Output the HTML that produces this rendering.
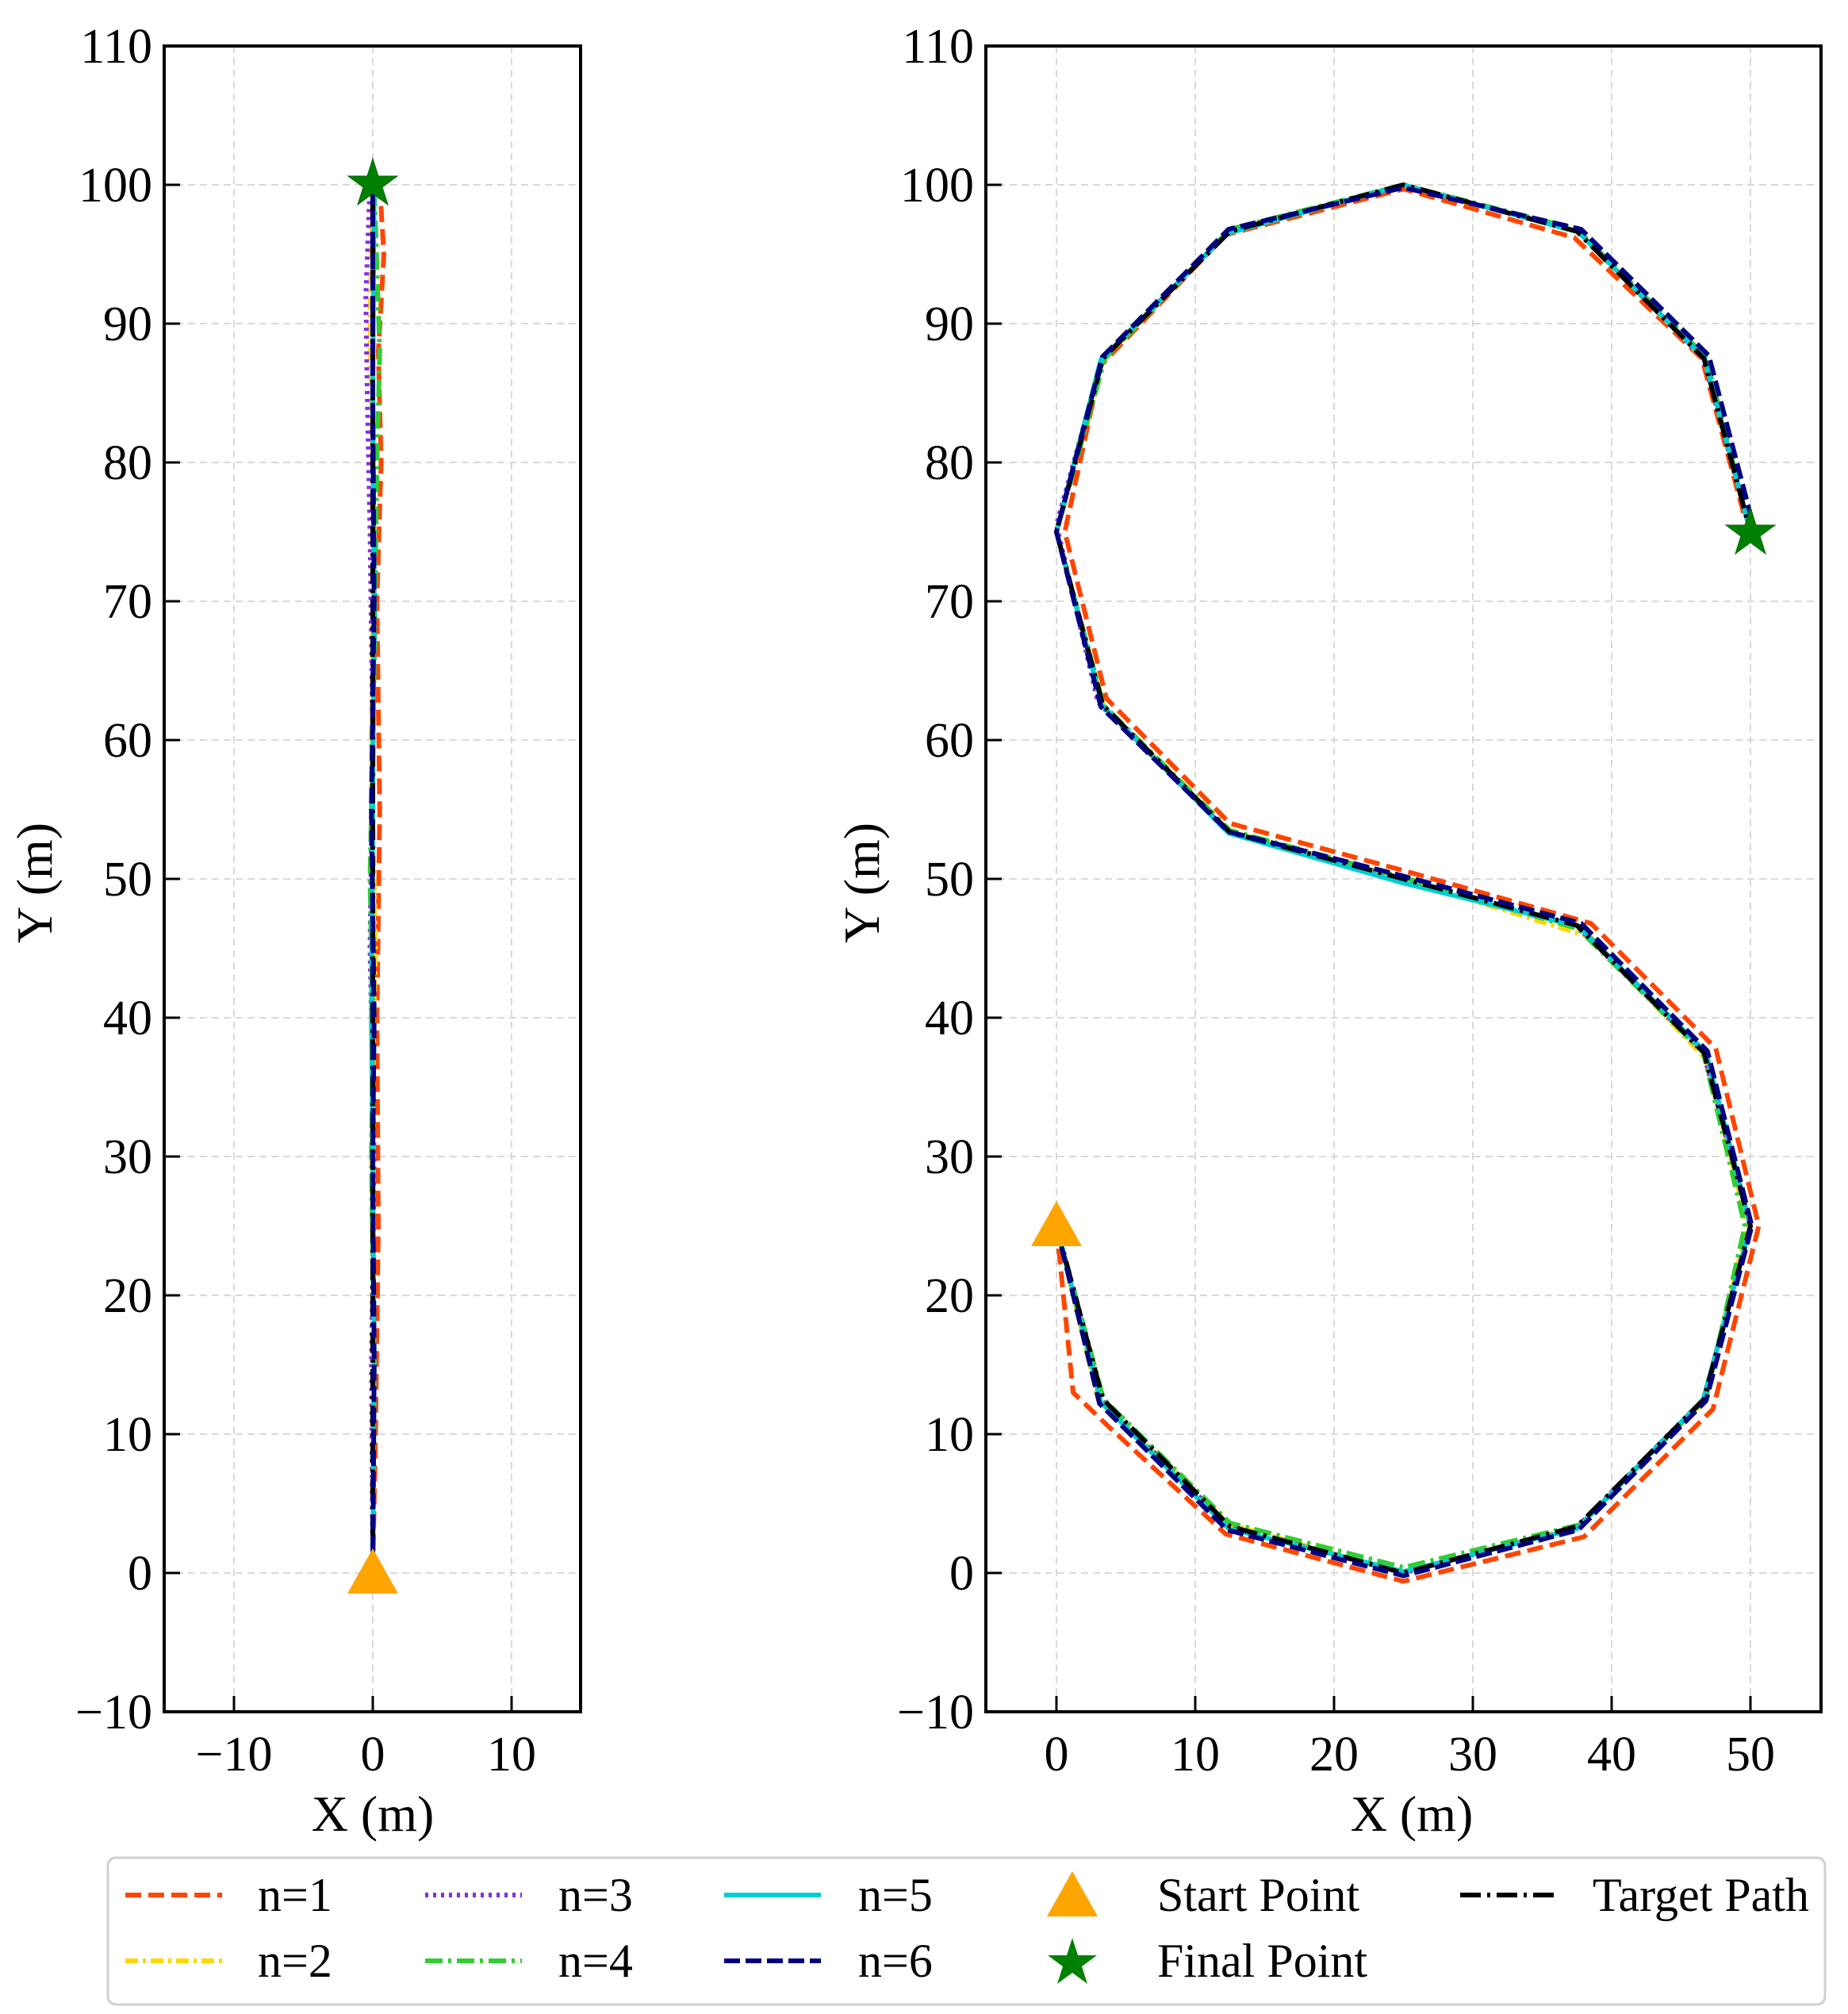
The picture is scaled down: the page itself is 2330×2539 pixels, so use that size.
<!DOCTYPE html>
<html><head><meta charset="utf-8"><style>
html,body{margin:0;padding:0;background:#fff}
svg text{font-family:"Liberation Serif",serif;fill:#000}
</style></head><body>
<svg width="2330" height="2534" viewBox="0 0 2330 2534" xmlns="http://www.w3.org/2000/svg">

<!-- LEFT PANEL grid -->
<g stroke="#d9d9d9" stroke-width="2" stroke-dasharray="9,6">
<line x1="295" y1="58" x2="295" y2="2158"/><line x1="470" y1="58" x2="470" y2="2158"/><line x1="645" y1="58" x2="645" y2="2158"/>
<line x1="207" y1="233" x2="732" y2="233"/><line x1="207" y1="408" x2="732" y2="408"/><line x1="207" y1="583" x2="732" y2="583"/><line x1="207" y1="758" x2="732" y2="758"/><line x1="207" y1="933" x2="732" y2="933"/><line x1="207" y1="1108" x2="732" y2="1108"/><line x1="207" y1="1283" x2="732" y2="1283"/><line x1="207" y1="1458" x2="732" y2="1458"/><line x1="207" y1="1633" x2="732" y2="1633"/><line x1="207" y1="1808" x2="732" y2="1808"/><line x1="207" y1="1983" x2="732" y2="1983"/>
</g>
<!-- RIGHT PANEL grid -->
<g stroke="#d9d9d9" stroke-width="2" stroke-dasharray="9,6">
<line x1="1332" y1="58" x2="1332" y2="2158"/><line x1="1507" y1="58" x2="1507" y2="2158"/><line x1="1682" y1="58" x2="1682" y2="2158"/><line x1="1857" y1="58" x2="1857" y2="2158"/><line x1="2032" y1="58" x2="2032" y2="2158"/><line x1="2207" y1="58" x2="2207" y2="2158"/>
<line x1="1243" y1="233" x2="2296" y2="233"/><line x1="1243" y1="408" x2="2296" y2="408"/><line x1="1243" y1="583" x2="2296" y2="583"/><line x1="1243" y1="758" x2="2296" y2="758"/><line x1="1243" y1="933" x2="2296" y2="933"/><line x1="1243" y1="1108" x2="2296" y2="1108"/><line x1="1243" y1="1283" x2="2296" y2="1283"/><line x1="1243" y1="1458" x2="2296" y2="1458"/><line x1="1243" y1="1633" x2="2296" y2="1633"/><line x1="1243" y1="1808" x2="2296" y2="1808"/><line x1="1243" y1="1983" x2="2296" y2="1983"/>
</g>

<!-- LEFT data -->
<g transform="translate(470,1983) scale(17.5,-17.5)" fill="none" stroke-linejoin="round" stroke-width="0.34">
<polyline stroke="#FF4500" stroke-dasharray="1.14,0.51" points="0,0 0.2,10 0.4,25 0.3,40 0.5,55 0.3,70 0.6,80 0.4,88 0.8,95 0.5,100"/>
<polyline stroke="#FFD700" stroke-dasharray="0.91,0.34,0.23,0.34" points="0,0 0.1,15 -0.1,30 0.2,45 -0.1,60 0.1,75 -0.2,90 0,100"/>
<polyline stroke="#8A2BE2" stroke-dasharray="0.23,0.34" points="0,0 -0.1,15 0.1,30 -0.2,45 0,60 -0.2,75 -0.4,85 -0.5,92 -0.2,100"/>
<polyline stroke="#32CD32" stroke-dasharray="1.26,0.4,0.23,0.4" points="0,0 0.1,15 -0.1,30 0,40 -0.2,50 0.1,65 0.3,80 0.5,88 0.1,100"/>
<polyline stroke="#00CED1" points="0,0 0.1,15 0,30 -0.1,40 0,55 0.1,70 0,85 0.1,100"/>
<polyline stroke="#000000" stroke-dasharray="1.49,0.46,0.23,0.46" points="0,0 0,100"/>
<polyline stroke="#000080" stroke-dasharray="1.14,0.4" points="0,0 0.1,15 0,30 0.1,40 -0.1,55 0.1,70 0,85 0,100"/>
</g>
<polygon points="470,1952 438,2009 502,2009" fill="#FFA500"/>
<polygon points="470,200 477,222 501,222 482,236 489,258 470,244 451,258 458,236 439,222 463,222" fill="#008000" stroke="#006400" stroke-width="1"/>

<!-- RIGHT data -->
<g transform="translate(1332,1983) scale(17.5,-17.5)" fill="none" stroke-linejoin="round" stroke-width="0.34">
<polyline stroke="#FF4500" stroke-dasharray="1.14,0.51" points="0,25 1.2,13 3.8,10.5 12.2,2.8 25,-0.6 38,2.6 47.3,11.8 50.6,25 47.5,37.8 38.5,46.8 25,50.6 12.5,54 3.6,63 0.6,75 3.2,87 12.2,96.4 25,99.7 37.3,96.2 46.5,87.5 49.6,76"/>
<polyline stroke="#FFD700" stroke-dasharray="0.91,0.34,0.23,0.34" points="0,25 3,12.5 12.5,3.5 25,0 37.5,3.3 46.6,12.3 49.8,25 46.8,37 38.5,45.8 25,50 12.5,53.4 3.4,62.4 0,75 3.3,87.4 12.4,96.6 25,100 37.6,96.6 46.7,87.4 50,75"/>
<polyline stroke="#8A2BE2" stroke-dasharray="0.23,0.34" points="0,25 3.3,12.4 12.5,3.3 25,0 37.5,3.3 46.6,12.5 50,25 46.6,37.5 37.5,46.6 25,50 12.5,53.3 3,62.7 0,75.5 3.3,87.5 12.5,96.7 25,100 37.5,96.7 46.6,87.5 50,75"/>
<polyline stroke="#32CD32" stroke-dasharray="1.26,0.4,0.23,0.4" points="0,25 3.4,12.5 12.5,3.6 25,0.4 37.8,3.5 46.8,12.6 49.6,25 46.6,37.5 37.6,46.4 25,50.1 12.5,53.5 3.4,62.5 0,75 3.5,87.5 12.5,96.8 25,100 37.5,96.8 46.8,87.6 50,75"/>
<polyline stroke="#00CED1" points="0,25 3.2,12.3 12.4,3.2 25,0.1 37.5,3.2 46.6,12.5 50,25 46.8,37.5 37.6,46.6 25,49.7 12.4,53.3 3.3,62.5 0,75 3.2,87.4 12.3,96.5 25,100 37.6,96.6 46.7,87.5 50,75"/>
<polyline stroke="#000000" stroke-dasharray="1.49,0.46,0.23,0.46" points="0,25 3.35,12.5 12.5,3.35 25,0 37.5,3.35 46.65,12.5 50,25 46.65,37.5 37.5,46.65 25,50 12.5,53.35 3.35,62.5 0,75 3.35,87.5 12.5,96.65 25,100 37.5,96.65 46.65,87.5 50,75"/>
<polyline stroke="#000080" stroke-dasharray="1.14,0.4" points="0,25 3.1,12.2 12.3,3.1 25,-0.2 37.6,3.1 46.8,12.4 50.1,25 46.9,37.6 37.8,46.8 25,50.2 12.4,53.4 3.2,62.4 0,75 3.3,87.6 12.4,96.8 25,99.8 37.8,96.8 47,87.7 50.2,75.5"/>
</g>
<polygon points="1332,1514 1300,1571 1364,1571" fill="#FFA500"/>
<polygon points="2207,640 2214,662 2238,662 2219,676 2226,698 2207,684 2188,698 2195,676 2176,662 2200,662" fill="#008000" stroke="#006400" stroke-width="1"/>

<!-- axes frames -->
<rect x="207" y="58" width="525" height="2100" fill="none" stroke="#000" stroke-width="4"/>
<rect x="1243" y="58" width="1053" height="2100" fill="none" stroke="#000" stroke-width="4"/>

<!-- ticks -->
<g stroke="#000" stroke-width="3">
<line x1="295" y1="2158" x2="295" y2="2138"/><line x1="470" y1="2158" x2="470" y2="2138"/><line x1="645" y1="2158" x2="645" y2="2138"/>
<line x1="1332" y1="2158" x2="1332" y2="2138"/><line x1="1507" y1="2158" x2="1507" y2="2138"/><line x1="1682" y1="2158" x2="1682" y2="2138"/><line x1="1857" y1="2158" x2="1857" y2="2138"/><line x1="2032" y1="2158" x2="2032" y2="2138"/><line x1="2207" y1="2158" x2="2207" y2="2138"/>
</g>
<g stroke="#000" stroke-width="3">
<line x1="207" y1="233" x2="227" y2="233"/><line x1="207" y1="408" x2="227" y2="408"/><line x1="207" y1="583" x2="227" y2="583"/><line x1="207" y1="758" x2="227" y2="758"/><line x1="207" y1="933" x2="227" y2="933"/><line x1="207" y1="1108" x2="227" y2="1108"/><line x1="207" y1="1283" x2="227" y2="1283"/><line x1="207" y1="1458" x2="227" y2="1458"/><line x1="207" y1="1633" x2="227" y2="1633"/><line x1="207" y1="1808" x2="227" y2="1808"/><line x1="207" y1="1983" x2="227" y2="1983"/>
<line x1="1243" y1="233" x2="1263" y2="233"/><line x1="1243" y1="408" x2="1263" y2="408"/><line x1="1243" y1="583" x2="1263" y2="583"/><line x1="1243" y1="758" x2="1263" y2="758"/><line x1="1243" y1="933" x2="1263" y2="933"/><line x1="1243" y1="1108" x2="1263" y2="1108"/><line x1="1243" y1="1283" x2="1263" y2="1283"/><line x1="1243" y1="1458" x2="1263" y2="1458"/><line x1="1243" y1="1633" x2="1263" y2="1633"/><line x1="1243" y1="1808" x2="1263" y2="1808"/><line x1="1243" y1="1983" x2="1263" y2="1983"/>
</g>

<!-- y tick labels -->
<g font-size="62" text-anchor="end">
<text x="192" y="79">110</text><text x="192" y="254">100</text><text x="192" y="429">90</text><text x="192" y="604">80</text><text x="192" y="779">70</text><text x="192" y="954">60</text><text x="192" y="1129">50</text><text x="192" y="1304">40</text><text x="192" y="1479">30</text><text x="192" y="1654">20</text><text x="192" y="1829">10</text><text x="192" y="2004">0</text><text x="192" y="2179">−10</text>
<text x="1228" y="79">110</text><text x="1228" y="254">100</text><text x="1228" y="429">90</text><text x="1228" y="604">80</text><text x="1228" y="779">70</text><text x="1228" y="954">60</text><text x="1228" y="1129">50</text><text x="1228" y="1304">40</text><text x="1228" y="1479">30</text><text x="1228" y="1654">20</text><text x="1228" y="1829">10</text><text x="1228" y="2004">0</text><text x="1228" y="2179">−10</text>
</g>
<!-- x tick labels -->
<g font-size="62" text-anchor="middle">
<text x="295" y="2232">−10</text><text x="470" y="2232">0</text><text x="645" y="2232">10</text>
<text x="1332" y="2232">0</text><text x="1507" y="2232">10</text><text x="1682" y="2232">20</text><text x="1857" y="2232">30</text><text x="2032" y="2232">40</text><text x="2207" y="2232">50</text>
</g>
<!-- axis labels -->
<g font-size="64" text-anchor="middle">
<text x="470" y="2308">X (m)</text>
<text x="1780" y="2308">X (m)</text>
<text transform="translate(65,1113) rotate(-90)">Y (m)</text>
<text transform="translate(1108,1113) rotate(-90)">Y (m)</text>
</g>

<!-- legend -->
<rect x="136" y="2342" width="2165" height="185" rx="10" fill="#fff" stroke="#d0d0d0" stroke-width="3"/>
<g fill="none" stroke-width="6">
<line x1="158" y1="2389" x2="280" y2="2389" stroke="#FF4500" stroke-dasharray="20,9"/>
<line x1="158" y1="2472" x2="280" y2="2472" stroke="#FFD700" stroke-dasharray="16,6,4,6"/>
<line x1="536" y1="2389" x2="658" y2="2389" stroke="#8A2BE2" stroke-dasharray="4,6"/>
<line x1="536" y1="2472" x2="658" y2="2472" stroke="#32CD32" stroke-dasharray="22,7,4,7"/>
<line x1="913" y1="2389" x2="1035" y2="2389" stroke="#00CED1"/>
<line x1="913" y1="2472" x2="1035" y2="2472" stroke="#000080" stroke-dasharray="20,7"/>
<line x1="1841" y1="2389" x2="1961" y2="2389" stroke="#000" stroke-dasharray="26,8,4,8"/>
</g>
<polygon points="1352,2359 1320,2416 1384,2416" fill="#FFA500"/>
<polygon points="1352,2443 1359,2465 1383,2465 1364,2479 1371,2501 1352,2487 1333,2501 1340,2479 1321,2465 1345,2465" fill="#008000"/>
<g font-size="60">
<text x="325" y="2409">n=1</text><text x="325" y="2492">n=2</text>
<text x="704" y="2409">n=3</text><text x="704" y="2492">n=4</text>
<text x="1082" y="2409">n=5</text><text x="1082" y="2492">n=6</text>
<text x="1459" y="2409">Start Point</text><text x="1459" y="2492">Final Point</text>
<text x="2008" y="2409">Target Path</text>
</g>
</svg>
</body></html>
